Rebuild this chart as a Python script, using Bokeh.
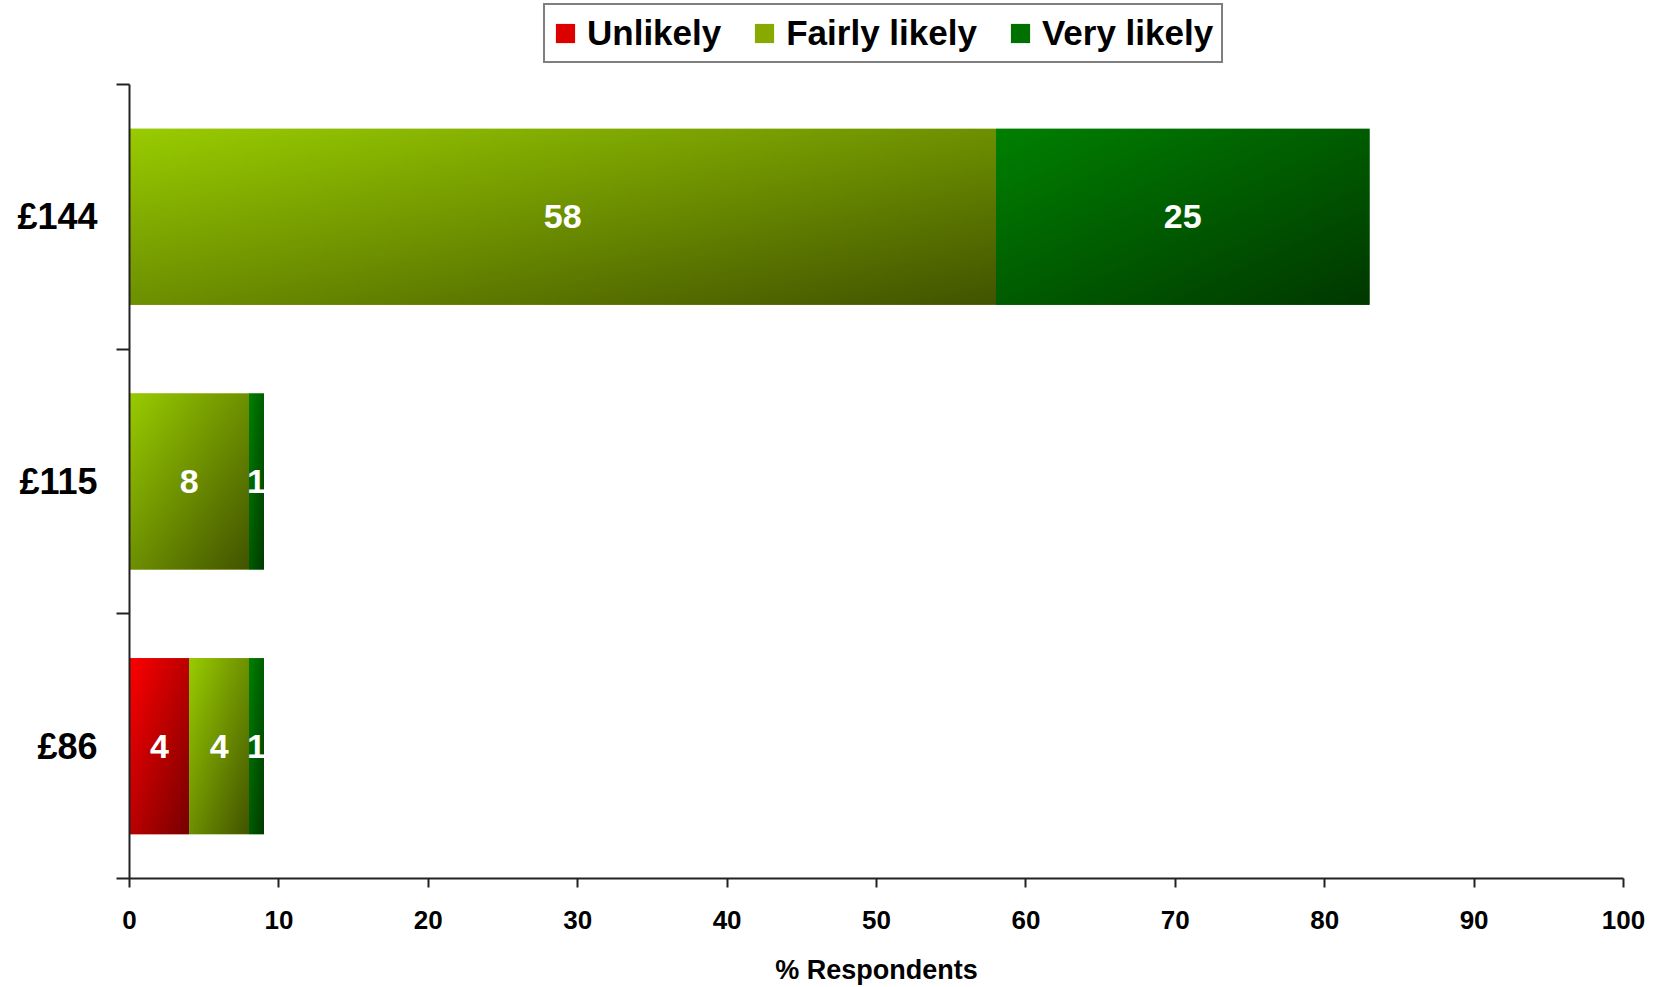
import numpy as np
from bokeh.plotting import figure
from bokeh.models import (Range1d, LinearAxis, FixedTicker, Legend, LegendItem,
                          ColumnDataSource)
from bokeh.core.properties import value
from bokeh.embed import file_html
from bokeh.resources import INLINE

# ---------------- data ----------------
categories = ["£86", "£115", "£144"]
series_names = ["Unlikely", "Fairly likely", "Very likely"]
unlikely = [4, 0, 0]
fairly_likely = [4, 8, 58]
very_likely = [1, 1, 25]
x_ticks = [0, 10, 20, 30, 40, 50, 60, 70, 80, 90, 100]
x_label = "% Respondents"

# ---------------- styles / layout ----------------
FONT = "Liberation Sans"
light_colors = [(255, 0, 0), (153, 204, 0), (0, 128, 0)]
dark_colors = [(118, 0, 0), (66, 84, 0), (0, 56, 0)]
mid_colors = ["#dd0000", "#88aa00", "#007000"]
BAR_H = 0.665
W, H = 1660, 987
FRAME_BOTTOM = 878          # px from canvas top
DATA_TOP_PX = 84            # px where the category area begins
n_cat = len(categories)
y_end = n_cat * FRAME_BOTTOM / (FRAME_BOTTOM - DATA_TOP_PX)   # room above for legend


def gradient(c0, c1, w=160, h=80):
    u = np.linspace(0, 1, w)[None, :]
    v = np.linspace(0, 1, h)[:, None]          # row 0 = bottom
    t = (u + (1 - v)) / 2.0                    # light top-left -> dark bottom-right
    img = np.empty((h, w), dtype=np.uint32)
    view = img.view(dtype=np.uint8).reshape((h, w, 4))
    for k in range(3):
        view[:, :, k] = np.clip(c0[k] + (c1[k] - c0[k]) * t, 0, 255).astype(np.uint8)
    view[:, :, 3] = 255
    return img


p = figure(width=W, height=H, x_range=Range1d(0, 100), y_range=Range1d(0, y_end),
           output_backend="svg", toolbar_location=None,
           x_axis_type=None, y_axis_type=None,
           min_border_left=129, min_border_right=37,
           min_border_top=0, min_border_bottom=H - FRAME_BOTTOM)
p.outline_line_color = None
p.xgrid.visible = False
p.ygrid.visible = False
p.background_fill_color = "white"
p.border_fill_color = "white"

series = [unlikely, fairly_likely, very_likely]
ypos = [i + 0.5 for i in range(n_cat)]
lefts = [0.0] * n_cat
legend_items = []
for s_idx, (name, vals) in enumerate(zip(series_names, series)):
    left = list(lefts)
    right = [l + v for l, v in zip(left, vals)]
    src = ColumnDataSource(dict(y=ypos, left=left, right=right, val=vals))
    r = p.hbar(y="y", left="left", right="right", height=BAR_H, source=src,
               fill_color=mid_colors[s_idx], line_color=None)
    legend_items.append(LegendItem(label=name, renderers=[r]))
    # gradient overlays
    img = gradient(light_colors[s_idx], dark_colors[s_idx])
    xs, ys, dws, imgs = [], [], [], []
    for l, v, y in zip(left, vals, ypos):
        if v > 0:
            xs.append(l); ys.append(y - BAR_H / 2); dws.append(v); imgs.append(img)
    if imgs:
        p.image_rgba(image=imgs, x=xs, y=ys, dw=dws, dh=[BAR_H] * len(imgs))
    lefts = right

# data labels
lefts = [0.0] * n_cat
lx, ly, lt = [], [], []
for vals in series:
    for i, v in enumerate(vals):
        if v > 0:
            lx.append(lefts[i] + v / 2.0)
            ly.append(ypos[i])
            lt.append(str(v))
        lefts[i] += v
p.text(x=lx, y=ly, text=lt, text_color="white", text_font=value(FONT),
       text_font_style="bold", text_font_size="34px",
       text_align="center", text_baseline="middle")

# x axis
xaxis = LinearAxis(ticker=FixedTicker(ticks=x_ticks, minor_ticks=[]))
xaxis.axis_label = x_label
xaxis.axis_label_text_font = FONT
xaxis.axis_label_text_font_style = "bold"
xaxis.axis_label_text_font_size = "27px"
xaxis.axis_label_text_color = "black"
xaxis.axis_label_standoff = 23
xaxis.major_label_text_font = FONT
xaxis.major_label_text_font_style = "bold"
xaxis.major_label_text_font_size = "26px"
xaxis.major_label_text_color = "black"
xaxis.major_label_standoff = 23
xaxis.major_tick_out = 9
xaxis.major_tick_in = 0
xaxis.minor_tick_out = 0
xaxis.minor_tick_in = 0
xaxis.axis_line_width = 2
xaxis.axis_line_color = "#222222"
xaxis.major_tick_line_width = 2
xaxis.major_tick_line_color = "#222222"
p.add_layout(xaxis, "below")

# y axis (labels at centers, ticks at boundaries)
yaxis = LinearAxis(ticker=FixedTicker(ticks=ypos, minor_ticks=list(range(n_cat + 1))),
                   bounds=(0, n_cat))
yaxis.major_label_overrides = {y: c for y, c in zip(ypos, categories)}
yaxis.major_label_text_font = FONT
yaxis.major_label_text_font_style = "bold"
yaxis.major_label_text_font_size = "36px"
yaxis.major_label_text_color = "black"
yaxis.major_label_standoff = 19
yaxis.major_tick_out = 0
yaxis.major_tick_in = 0
yaxis.minor_tick_out = 13
yaxis.minor_tick_in = 0
yaxis.minor_tick_line_width = 2
yaxis.minor_tick_line_color = "#222222"
yaxis.axis_line_width = 2
yaxis.axis_line_color = "#222222"
p.add_layout(yaxis, "left")

legend = Legend(items=legend_items, orientation="horizontal",
                location=(414, FRAME_BOTTOM - 63))
legend.label_text_font = FONT
legend.label_text_font_style = "bold"
legend.label_text_font_size = "35px"
legend.label_text_color = "black"
legend.label_text_baseline = "middle"
legend.glyph_width = 24
legend.glyph_height = 24
legend.label_standoff = 10
legend.spacing = 31
legend.padding = 8
legend.margin = 0
legend.border_line_color = "black"
legend.border_line_width = 2
legend.background_fill_color = "white"
legend.background_fill_alpha = 1.0
p.add_layout(legend)

open("out.html", "w").write(file_html(p, INLINE))
